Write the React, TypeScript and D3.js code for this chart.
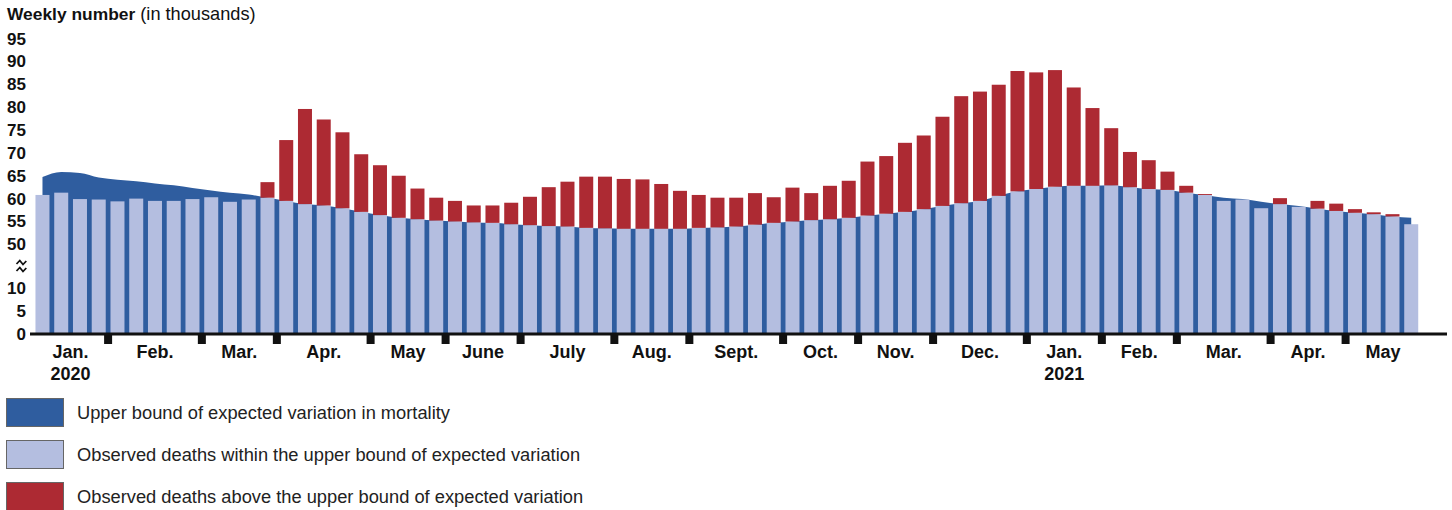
import React from 'react';
import * as d3 from 'd3';

// Weekly deaths (thousands), Jan 2020 – May 2021
const observed = [
  60.9, 61.4, 60.0, 59.9, 59.5, 60.1, 59.6, 59.6, 60.0, 60.4, 59.4, 59.9, 63.7,
  72.9, 79.7, 77.4, 74.6, 69.8, 67.4, 65.1, 62.3, 60.3, 59.6, 58.6, 58.6, 59.2,
  60.5, 62.6, 63.8, 64.9, 64.9, 64.4, 64.3, 63.3, 61.8, 60.9, 60.3, 60.3, 61.3,
  60.4, 62.5, 61.3, 62.9, 64.0, 68.2, 69.4, 72.3, 73.9, 78.0, 82.5, 83.5, 85.0,
  88.0, 87.7, 88.2, 84.4, 79.9, 75.5, 70.3, 68.5, 66.0, 62.9, 61.1, 59.6, 59.9,
  58.0, 60.2, 58.3, 59.6, 59.0, 57.8, 57.1, 56.7, 54.5,
];

const upperBound = [
  64.8, 65.9, 65.7, 64.7, 64.2, 63.9, 63.4, 63.0, 62.4, 61.9, 61.4, 61.0, 60.3,
  59.6, 58.9, 58.6, 58.0, 57.2, 56.5, 55.9, 55.6, 55.3, 55.1, 54.9, 54.8, 54.5,
  54.3, 54.1, 54.0, 53.7, 53.6, 53.5, 53.5, 53.5, 53.5, 53.7, 53.8, 54.0, 54.4,
  54.8, 55.1, 55.4, 55.6, 55.9, 56.4, 56.8, 57.2, 57.8, 58.5, 59.1, 59.6, 60.7,
  61.7, 62.2, 62.7, 62.9, 62.9, 63.0, 62.6, 62.2, 62.0, 61.4, 60.9, 60.3, 60.0,
  59.4, 58.9, 58.5, 57.9, 57.4, 57.0, 56.7, 56.2, 55.9,
];

const months = [
  'Jan.', 'Feb.', 'Mar.', 'Apr.', 'May', 'June', 'July', 'Aug.', 'Sept.', 'Oct.',
  'Nov.', 'Dec.', 'Jan.', 'Feb.', 'Mar.', 'Apr.', 'May',
];
const monthWeeks = [4, 5, 4, 5, 4, 4, 5, 4, 5, 4, 4, 5, 4, 4, 5, 4, 4];
const yearLabels = [
  { month: 0, label: '2020' },
  { month: 12, label: '2021' },
];

const yTicks = [0, 5, 10, 50, 55, 60, 65, 70, 75, 80, 85, 90, 95];

const legendLabels = [
  'Upper bound of expected variation in mortality',
  'Observed deaths within the upper bound of expected variation',
  'Observed deaths above the upper bound of expected variation',
];

const DARK = '#2f5d9f';
const LIGHT = '#b4bee0';
const RED = '#ad2a33';
const FONT = '"Liberation Sans", Arial, Helvetica, sans-serif';

export default function App() {
  const W = 1452;
  const H = 510;
  const idx = d3.range(observed.length);

  const x = d3
    .scaleBand<number>()
    .domain(idx)
    .range([33.1, 1420.6])
    .paddingInner(0.253)
    .paddingOuter(0.1265);
  const bw = x.bandwidth();
  const halfGap = (x.step() * 0.253) / 2;

  // broken axis: 10..50 compressed
  const y = d3.scaleLinear().domain([0, 10, 50, 95]).range([334, 288.7, 244.8, 39]);

  const area = d3
    .area<number>()
    .x((i) => (x(i) as number) + bw / 2)
    .y0(y(0))
    .y1((i) => y(upperBound[i]))
    .curve(d3.curveMonotoneX);

  // month boundaries
  const cum: number[] = [0];
  monthWeeks.forEach((w) => cum.push(cum[cum.length - 1] + w));
  const boundaryX = (k: number) =>
    k >= observed.length
      ? (x(observed.length - 1) as number) + bw + halfGap
      : (x(k) as number) - halfGap;

  const legendY = [398, 440, 482];
  const legendColors = [DARK, LIGHT, RED];

  return (
    <svg
      width={W}
      height={H}
      style={{ position: 'absolute', left: 0, top: 0, background: '#fff' }}
      fontFamily={FONT}
    >
      <rect x={0} y={0} width={W} height={H} fill="#fff" />
      {/* title */}
      <text x={7} y={20} fill="#111">
        <tspan fontWeight="bold" fontSize={17.4}>Weekly number</tspan>
        <tspan fontSize={18.2}> (in thousands)</tspan>
      </text>

      {/* y tick labels */}
      {yTicks.map((t) => (
        <text
          key={t}
          x={26}
          y={y(t)}
          fontSize={17}
          fontWeight="bold"
          textAnchor="end"
          dominantBaseline="central"
          fill="#111"
        >
          {t}
        </text>
      ))}
      {/* break symbol */}
      <g stroke="#111" strokeWidth={1.8} fill="none" strokeLinejoin="miter">
        <path d="M16.5,264 L19.8,260.5 L23,264.5 L26.3,261" />
        <path d="M16.5,271 L19.8,267.5 L23,271.5 L26.3,268" />
      </g>

      {/* upper bound area */}
      <path d={area(idx) || ''} fill={DARK} />

      {/* observed bars */}
      {idx.map((i) => {
        const o = observed[i];
        const b = upperBound[i];
        const lightTop = Math.min(o, b);
        return (
          <g key={i}>
            <rect
              x={x(i)}
              y={y(lightTop)}
              width={bw}
              height={y(0) - y(lightTop)}
              fill={LIGHT}
            />
            {o > b && (
              <rect x={x(i)} y={y(o)} width={bw} height={y(b) - y(o)} fill={RED} />
            )}
          </g>
        );
      })}

      {/* x axis */}
      <line x1={30} x2={1447} y1={334} y2={334} stroke="#111" strokeWidth={3} />
      {cum.slice(1, -1).map((k) => (
        <rect key={k} x={boundaryX(k) - 4} y={334} width={8} height={10} fill="#111" />
      ))}
      {months.map((m, j) => {
        const cx = (boundaryX(cum[j]) + boundaryX(cum[j + 1])) / 2;
        return (
          <text
            key={j}
            x={cx}
            y={357.5}
            fontSize={18}
            fontWeight="bold"
            textAnchor="middle"
            fill="#111"
          >
            {m}
          </text>
        );
      })}
      {yearLabels.map((yl) => {
        const j = yl.month;
        const cx = (boundaryX(cum[j]) + boundaryX(cum[j + 1])) / 2;
        return (
          <text
            key={yl.label}
            x={cx}
            y={380}
            fontSize={18}
            fontWeight="bold"
            textAnchor="middle"
            fill="#111"
          >
            {yl.label}
          </text>
        );
      })}

      {/* legend */}
      {legendLabels.map((l, k) => (
        <g key={l}>
          <rect
            x={6.5}
            y={legendY[k] + 0.5}
            width={57}
            height={28}
            fill={legendColors[k]}
            stroke="#666"
            strokeWidth={1}
          />
          <text
            x={77}
            y={legendY[k] + 14.5}
            fontSize={18.3}
            dominantBaseline="central"
            fill="#222"
          >
            {l}
          </text>
        </g>
      ))}
    </svg>
  );
}
